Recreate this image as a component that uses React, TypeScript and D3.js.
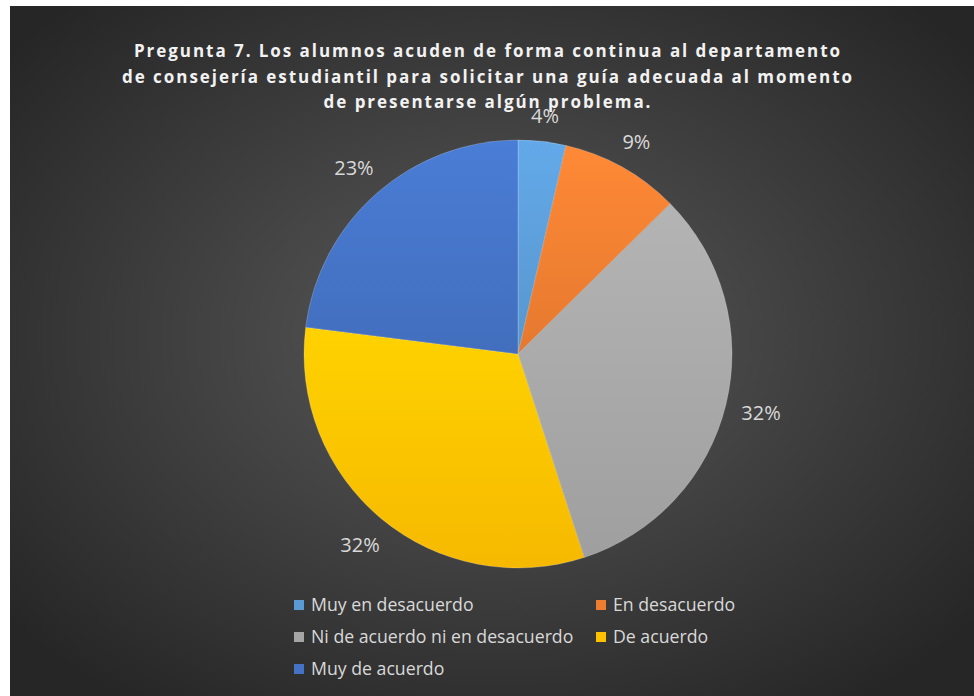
import React from "react";
import * as d3 from "d3";

const categories = [
  "Muy en desacuerdo",
  "En desacuerdo",
  "Ni de acuerdo ni en desacuerdo",
  "De acuerdo",
  "Muy de acuerdo",
];
const values = [3.6, 9.0, 32.4, 32.0, 23.0];
const colors = ["#5B9BD5", "#ED7D31", "#A5A5A5", "#FFC000", "#4472C4"];
const titleLines = [
  "Pregunta 7. Los alumnos acuden de forma continua al departamento",
  "de consejería estudiantil para solicitar una guía adecuada al momento",
  "de presentarse algún problema.",
];

const W = 974;
const H = 696;

export default function App() {
  const cx = 518;
  const cy = 354;
  const r = 214;
  const total = d3.sum(values);
  const pie = d3.pie<number>().sort(null).value((d) => d)(values);
  const arc = d3.arc<d3.PieArcDatum<number>>().innerRadius(0).outerRadius(r);

  const labelFont = 20;
  const labels = pie.map((p, i) => {
    const txt = `${Math.round((values[i] / total) * 100)}%`;
    const a = (p.startAngle + p.endAngle) / 2;
    const ux = Math.sin(a);
    const uy = -Math.cos(a);
    const w = txt.length * labelFont * 0.6;
    const h = 14;
    const ext = Math.abs(ux) * (w / 2) + Math.abs(uy) * (h / 2);
    const d = r + 17 + ext;
    return { txt, x: ux * d, y: uy * d };
  });

  const legendX = [294, 596];
  const legendY = [605, 637, 669];
  const legendPos = categories.map((c, i) => ({
    x: legendX[i % 2],
    y: legendY[Math.floor(i / 2)],
  }));

  return (
    <div style={{ position: "fixed", left: 0, top: 0, width: W, height: H }}>
      <svg width={W} height={H} style={{ display: "block" }}>
        <defs>
          <radialGradient id="bg" cx="50%" cy="48%" r="65%">
            <stop offset="0%" stopColor="#5a5a5a" />
            <stop offset="100%" stopColor="#262626" />
          </radialGradient>
          {colors.map((c, i) => (
            <linearGradient key={i} id={`g${i}`} x1="0" y1="0" x2="0" y2="1">
              <stop offset="0%" stopColor={d3.color(c)!.brighter(0.25).toString()} />
              <stop offset="100%" stopColor={d3.color(c)!.darker(0.1).toString()} />
            </linearGradient>
          ))}
        </defs>
        <rect x={0} y={0} width={W} height={H} fill="#ffffff" />
        <rect x={10} y={6} width={W - 10} height={H - 6} fill="url(#bg)" />
        <g
          fontFamily="'Open Sans', 'Noto Sans', sans-serif"
          fontWeight="bold"
          fontSize={17}
          letterSpacing={1.95}
          fill="#f2f2f2"
          textAnchor="middle"
        >
          {titleLines.map((t, i) => (
            <text key={i} x={488} y={57 + i * 25.5}>
              {t}
            </text>
          ))}
        </g>
        <g transform={`translate(${cx},${cy})`}>
          {pie.map((p, i) => (
            <path
              key={i}
              d={arc(p) || ""}
              fill={`url(#g${i})`}
              stroke="rgba(255,255,255,0.25)"
              strokeWidth={0.8}
            />
          ))}
          {labels.map((l, i) => (
            <text
              key={i}
              x={l.x}
              y={l.y}
              dy="0.35em"
              textAnchor="middle"
              fontFamily="'Open Sans', 'Noto Sans', sans-serif"
              fontSize={labelFont}
              fill="#d9d9d9"
            >
              {l.txt}
            </text>
          ))}
        </g>
        <g fontFamily="'Open Sans', 'Noto Sans', sans-serif" fontSize={17.7} fill="#d9d9d9">
          {categories.map((c, i) => (
            <g key={i} transform={`translate(${legendPos[i].x},${legendPos[i].y})`}>
              <rect x={0} y={-5} width={10} height={10} fill={colors[i]} />
              <text x={17} y={0} dy="0.35em">
                {c}
              </text>
            </g>
          ))}
        </g>
      </svg>
    </div>
  );
}
